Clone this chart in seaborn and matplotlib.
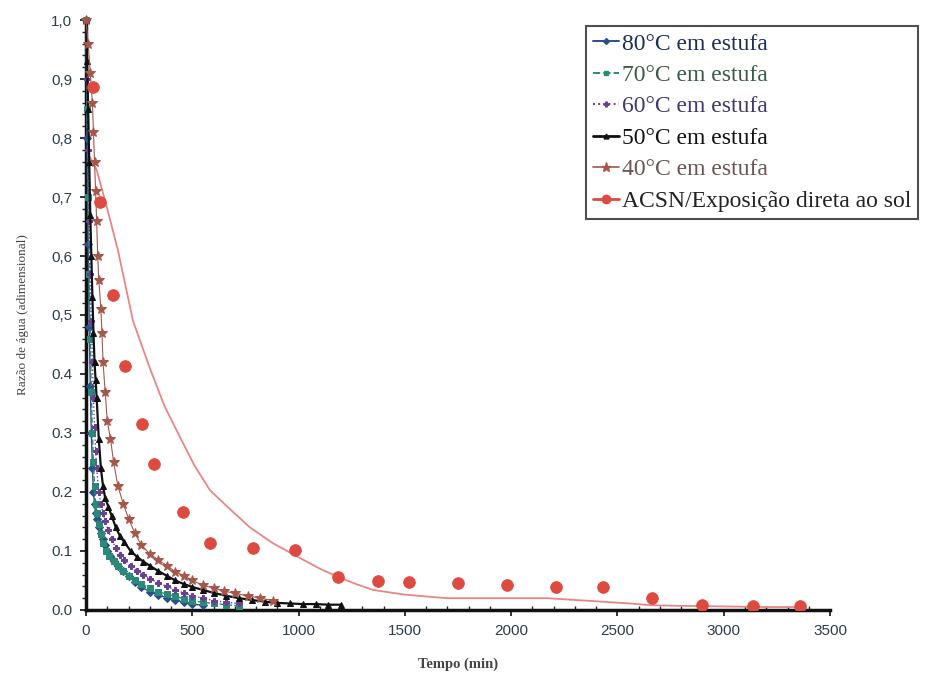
import matplotlib
matplotlib.use("Agg")
import matplotlib.pyplot as plt
from matplotlib.lines import Line2D
from matplotlib.ticker import MultipleLocator, FixedLocator
import seaborn as sns
import pandas as pd

# Oven drying curves (time in min, moisture ratio)
t_80 = [0, 5, 10, 15, 20, 25, 30, 35, 40, 45, 50, 60, 70, 80, 90, 100, 115, 130, 150,
        175, 200, 230, 260, 300, 340, 380, 420, 460, 500, 550]
mr_80 = [1.0, 0.80, 0.62, 0.48, 0.38, 0.30, 0.24, 0.20, 0.18, 0.165, 0.155, 0.14, 0.13,
         0.12, 0.11, 0.10, 0.092, 0.083, 0.074, 0.066, 0.057, 0.047, 0.039, 0.031, 0.025,
         0.021, 0.017, 0.013, 0.010, 0.008]

t_70 = [0, 5, 10, 15, 20, 25, 30, 35, 40, 45, 50, 60, 70, 80, 95, 110, 130, 150, 175,
        200, 230, 260, 300, 340, 380, 420, 460, 500, 550, 600, 660, 720]
mr_70 = [1.0, 0.85, 0.70, 0.57, 0.46, 0.37, 0.30, 0.25, 0.21, 0.18, 0.165, 0.145, 0.128,
         0.113, 0.10, 0.092, 0.083, 0.075, 0.066, 0.058, 0.050, 0.044, 0.037, 0.031, 0.027,
         0.023, 0.019, 0.016, 0.013, 0.011, 0.009, 0.007]

t_60 = [0, 5, 10, 15, 20, 25, 30, 35, 40, 45, 50, 60, 70, 80, 90, 105, 120, 140, 160,
        180, 210, 240, 270, 300, 340, 380, 420, 460, 500, 550, 600, 660, 720]
mr_60 = [1.0, 0.90, 0.78, 0.66, 0.57, 0.49, 0.42, 0.36, 0.31, 0.27, 0.24, 0.20, 0.18,
         0.165, 0.15, 0.135, 0.12, 0.105, 0.094, 0.085, 0.075, 0.066, 0.059, 0.053, 0.046,
         0.040, 0.034, 0.029, 0.024, 0.020, 0.016, 0.013, 0.011]

t_50 = [0, 5, 10, 15, 20, 25, 30, 35, 40, 45, 50, 60, 70, 80, 90, 105, 120, 140, 160,
        180, 210, 240, 270, 300, 340, 380, 420, 460, 500, 550, 600, 660, 720, 780, 840,
        900, 960, 1020, 1080, 1140, 1200]
mr_50 = [1.0, 0.93, 0.85, 0.76, 0.67, 0.60, 0.53, 0.47, 0.42, 0.39, 0.36, 0.29, 0.24,
         0.21, 0.19, 0.175, 0.16, 0.14, 0.125, 0.115, 0.10, 0.09, 0.082, 0.075, 0.066,
         0.058, 0.050, 0.044, 0.039, 0.034, 0.029, 0.024, 0.020, 0.017, 0.014, 0.012,
         0.011, 0.010, 0.010, 0.009, 0.009]

t_40 = [0, 10, 20, 30, 35, 40, 45, 50, 55, 60, 70, 75, 80, 90, 100, 115, 130, 150, 175,
        200, 230, 260, 300, 340, 380, 420, 460, 500, 550, 600, 650, 700, 760, 820, 880]
mr_40 = [1.0, 0.96, 0.91, 0.86, 0.81, 0.76, 0.71, 0.66, 0.60, 0.56, 0.51, 0.47, 0.42,
         0.37, 0.32, 0.29, 0.25, 0.21, 0.18, 0.155, 0.13, 0.11, 0.095, 0.085, 0.075,
         0.065, 0.058, 0.050, 0.042, 0.037, 0.032, 0.028, 0.024, 0.020, 0.016]

# Direct sun exposure: measured points and fitted model curve
t_sol = [33, 66, 127, 183, 263, 320, 456, 583, 786, 983, 1186, 1373, 1520, 1750, 1980,
         2210, 2432, 2663, 2900, 3137, 3358]
mr_sol = [0.886, 0.692, 0.534, 0.414, 0.315, 0.247, 0.166, 0.113, 0.105, 0.102, 0.056,
          0.049, 0.047, 0.046, 0.042, 0.039, 0.039, 0.020, 0.008, 0.007, 0.007]

t_fit = [0, 50, 100, 150, 221, 300, 370, 442, 510, 583, 680, 771, 880, 1007, 1100, 1186,
         1270, 1350, 1500, 1697, 1900, 2168, 2432, 2560, 2663, 2800, 3000, 3200, 3358]
mr_fit = [0.78, 0.746, 0.68, 0.61, 0.49, 0.41, 0.345, 0.293, 0.245, 0.203, 0.17, 0.14,
          0.113, 0.088, 0.07, 0.056, 0.044, 0.034, 0.026, 0.020, 0.020, 0.020, 0.014,
          0.011, 0.008, 0.007, 0.006, 0.005, 0.005]

x_ticks = [0, 500, 1000, 1500, 2000, 2500, 3000, 3500]
y_ticks = [0.0, 0.1, 0.2, 0.3, 0.4, 0.5, 0.6, 0.7, 0.8, 0.9, 1.0]
y_tick_labels = ["0.0", "0.1", "0.2", "0.3", "0.4", "0,5", "0,6", "0,7", "0,8", "0,9", "1,0"]

sns.set_theme(style="white")
plt.rcParams["font.family"] = ["Liberation Sans", "DejaVu Sans"]

fig = plt.figure(figsize=(9.32, 6.83), dpi=100)
ax = fig.add_axes([0.0923, 0.1069, 0.7983, 0.8638])

series = [
    ("80°C em estufa", t_80, mr_80, "#2b4f8a", "D", 4, "-", 1.0),
    ("70°C em estufa", t_70, mr_70, "#2a8a78", "s", 4.5, "--", 1.0),
    ("60°C em estufa", t_60, mr_60, "#6b3f90", "P", 4.5, ":", 1.0),
    ("50°C em estufa", t_50, mr_50, "#111111", "^", 4.5, "-", 1.6),
    ("40°C em estufa", t_40, mr_40, "#a5574c", "*", 7.5, "-", 0.8),
]

for name, tx, my, col, mk, ms, ls, lw in series:
    df = pd.DataFrame({"t": tx, "mr": my})
    sns.lineplot(data=df, x="t", y="mr", ax=ax, color=col, marker=mk, markersize=ms,
                 linestyle=ls, linewidth=lw, markeredgecolor=col, sort=False,
                 estimator=None, legend=False, clip_on=False, zorder=3)

df_fit = pd.DataFrame({"t": t_fit, "mr": mr_fit})
sns.lineplot(data=df_fit, x="t", y="mr", ax=ax, color="#e98585", linewidth=1.3,
             sort=False, estimator=None, legend=False, zorder=2)
df_sol = pd.DataFrame({"t": t_sol, "mr": mr_sol})
sns.scatterplot(data=df_sol, x="t", y="mr", ax=ax, color="#dc4a40", s=70,
                edgecolor="#dc4a40", legend=False, zorder=4)

ax.set_xlim(0, 3500)
ax.set_ylim(0, 1.0)
ax.xaxis.set_major_locator(FixedLocator(x_ticks))
ax.set_xticklabels([str(v) for v in x_ticks])
ax.yaxis.set_major_locator(FixedLocator(y_ticks))
ax.set_yticklabels(y_tick_labels)
ax.yaxis.set_minor_locator(MultipleLocator(0.02))
ax.xaxis.set_minor_locator(MultipleLocator(100))

for side in ["top", "right"]:
    ax.spines[side].set_visible(False)
for side in ["left", "bottom"]:
    ax.spines[side].set_color("#111111")
    ax.spines[side].set_linewidth(2.5)

ax.tick_params(axis="both", which="major", labelsize=11, labelcolor="#2e3d48",
               colors="#111111", length=4, width=1.2, direction="out",
               bottom=True, left=True, pad=6)
ax.tick_params(axis="y", which="minor", length=3, width=1.0, left=True, direction="out")
ax.tick_params(axis="x", which="minor", length=3, width=1.0, bottom=True, direction="in")

ax.set_xlabel("Tempo (min)", fontsize=10.5, family=["Liberation Serif"],
              fontweight="bold", color="#444444", labelpad=14)
ax.set_ylabel("Razão de água (adimensional)", fontsize=9.5, family=["Liberation Serif"],
              color="#444444", labelpad=16)
ax.grid(False)

handles = []
for name, tx, my, col, mk, ms, ls, lw in series:
    handles.append(Line2D([], [], color=col, marker=mk, markersize=ms - 1, linestyle=ls,
                          linewidth=lw + 0.4))
handles.append(Line2D([], [], color="#dc4a40", marker="o", markersize=6, linestyle="-",
                      linewidth=2))
labels = [s[0] for s in series] + ["ACSN/Exposição direta ao sol"]

leg = ax.legend(handles, labels, loc="upper right",
                bbox_to_anchor=(918 / 932, 1 - 26 / 683), bbox_transform=fig.transFigure,
                prop={"family": "Liberation Serif", "size": 17}, frameon=True,
                fancybox=False, edgecolor="#222222", handlelength=1.1, handletextpad=0.12,
                labelspacing=0.42, borderpad=0.3, borderaxespad=0)
leg.get_frame().set_linewidth(1.5)
text_cols = ["#1f2f55", "#3c5a4a", "#3f3a6a", "#111111", "#6a5552", "#222222"]
for txt, c in zip(leg.get_texts(), text_cols):
    txt.set_color(c)

fig.savefig("out.png", dpi=100, facecolor="white")
